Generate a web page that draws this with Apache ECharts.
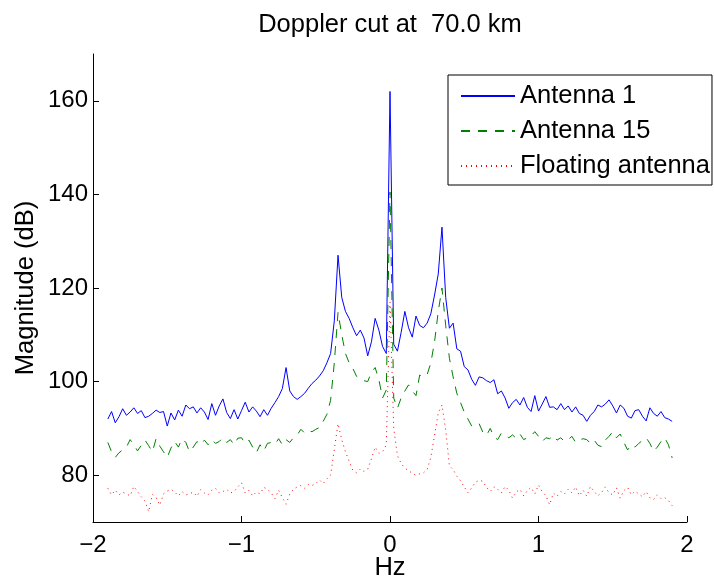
<!DOCTYPE html>
<html>
<head>
<meta charset="utf-8">
<script src="https://cdn.jsdelivr.net/npm/echarts@6/dist/echarts.min.js"></script>
<style>
  html, body { margin: 0; padding: 0; background: #fff; }
  #main { width: 714px; height: 580px; }
</style>
</head>
<body>
<div id="main"></div>
<script>
// frequency bins (Hz)
var freqs = [
  -1.9, -1.875, -1.85, -1.825, -1.8, -1.775, -1.75, -1.725, -1.7, -1.675,
  -1.65, -1.625, -1.6, -1.575, -1.55, -1.525, -1.5, -1.475, -1.45, -1.425,
  -1.4, -1.375, -1.35, -1.325, -1.3, -1.275, -1.25, -1.225, -1.2, -1.175,
  -1.15, -1.125, -1.1, -1.075, -1.05, -1.025, -1, -0.975, -0.95, -0.925,
  -0.9, -0.875, -0.85, -0.825, -0.8, -0.775, -0.75, -0.725, -0.7, -0.675,
  -0.65, -0.625, -0.6, -0.575, -0.55, -0.525, -0.5, -0.475, -0.45, -0.425,
  -0.4, -0.375, -0.35, -0.325, -0.3, -0.275, -0.25, -0.225, -0.2, -0.175,
  -0.15, -0.125, -0.1, -0.075, -0.05, -0.025, 0,
  0.025, 0.05, 0.075, 0.1, 0.125, 0.15, 0.175, 0.2, 0.225, 0.25,
  0.275, 0.3, 0.325, 0.35, 0.375, 0.4, 0.425, 0.45, 0.475, 0.5,
  0.525, 0.55, 0.575, 0.6, 0.625, 0.65, 0.675, 0.7, 0.725, 0.75,
  0.775, 0.8, 0.825, 0.85, 0.875, 0.9, 0.925, 0.95, 0.975, 1,
  1.025, 1.05, 1.075, 1.1, 1.125, 1.15, 1.175, 1.2, 1.225, 1.25,
  1.275, 1.3, 1.325, 1.35, 1.375, 1.4, 1.425, 1.45, 1.475, 1.5,
  1.525, 1.55, 1.575, 1.6, 1.625, 1.65, 1.675, 1.7, 1.725, 1.75,
  1.775, 1.8, 1.825, 1.85, 1.875, 1.9
];

// magnitudes (dB)
var antenna1 = [
  92.0, 93.6, 91.2, 92.5, 94.2, 92.8, 93.5, 94.4, 93.2, 93.8,
  92.3, 92.6, 93.2, 93.9, 93.4, 93.6, 90.5, 93.3, 91.8, 93.9,
  92.6, 95.0, 94.2, 94.6, 93.3, 94.4, 93.5, 91.9, 95.3, 92.8,
  94.8, 96.3, 93.4, 92.1, 94.0, 92.0, 93.8, 95.6, 93.5, 94.6,
  93.7, 92.5, 94.0, 92.8, 94.3, 95.5, 96.8, 98.5, 103.0, 98.0,
  96.8, 96.2, 96.8, 97.5, 98.6, 99.6, 100.3, 101.2, 102.3, 104.0,
  106.0, 113.0, 127.0, 118.0, 115.0, 113.5, 111.5, 109.8, 111.0, 109.3,
  105.5, 108.5, 113.5, 111.0, 107.5, 106.0, 162.0,
  108.0, 106.5, 110.5, 115.0, 111.5, 109.5, 114.0, 112.0, 111.5, 112.5,
  114.5, 118.5, 123.0, 133.0, 118.0, 111.4, 112.5, 107.0, 106.5, 103.2,
  102.5, 100.5, 99.2, 101.0, 100.8, 100.2, 99.8, 100.4, 97.4, 98.0,
  96.5, 94.3, 95.5, 96.2, 95.0, 96.6, 94.5, 93.6, 97.0, 93.7,
  95.2, 96.8, 94.5, 94.6, 94.0, 95.3, 94.0, 94.8, 93.5, 94.6,
  93.2, 92.8, 91.5, 92.8, 93.6, 95.0, 94.6, 95.2, 96.1, 94.8,
  93.3, 95.0, 94.3, 92.6, 92.2, 93.8, 94.0, 92.6, 91.6, 94.4,
  93.2, 92.6, 93.6, 92.3, 92.0, 91.5
];
var antenna15 = [
  87.0, 85.0, 83.8, 84.8, 85.4, 86.0, 87.6, 86.5, 85.2, 86.4,
  87.5, 86.3, 85.0, 87.8, 86.2, 85.0, 83.8, 85.8, 87.2, 86.0,
  87.8, 87.0, 85.0, 86.0, 87.2, 86.5, 87.5, 86.5, 87.6, 86.8,
  87.2, 88.0, 87.0, 87.6, 86.5, 87.9, 88.0, 86.8, 87.5, 86.0,
  84.8, 86.5, 85.2, 86.8, 87.0, 86.6, 87.8, 86.5, 87.6, 87.0,
  88.0, 88.6, 89.8, 89.0, 89.5, 89.3, 89.8, 90.2, 91.5, 93.0,
  96.0, 104.0, 114.8, 110.0, 106.0, 104.0, 102.8, 101.1, 100.5, 100.2,
  100.0, 102.0, 103.0, 100.4, 96.5, 98.2, 140.5,
  96.5, 94.3, 96.5, 98.0, 99.3, 98.0, 97.0, 101.4, 101.0, 101.5,
  104.0, 108.5, 115.0, 120.0, 112.0, 105.0, 101.0, 97.5, 95.5, 93.5,
  92.0, 90.5, 90.5, 91.0, 89.2, 88.5, 90.0, 88.2, 87.6, 89.0,
  88.5, 88.0, 88.6, 87.9, 88.8, 87.6, 88.0, 88.4, 89.3, 88.3,
  87.2, 88.0, 87.8, 88.5, 87.5, 88.0, 87.2, 87.6, 88.3, 87.0,
  87.5, 87.8, 87.6, 86.8, 87.5, 86.4, 86.1, 87.5, 88.3, 89.3,
  88.0, 88.8, 87.0, 85.4, 86.5, 86.0, 86.8, 87.4, 88.0, 86.8,
  85.1, 86.0, 87.2, 88.0, 86.5, 83.7
];
var floating = [
  77.2, 75.8, 76.8, 75.8, 76.4, 76.0, 75.6, 77.6, 76.5, 75.4,
  74.5, 72.2, 75.9, 75.2, 73.6, 76.0, 76.6, 77.0, 76.4, 75.6,
  76.5, 75.8, 76.0, 76.4, 75.5, 76.9, 76.2, 75.8, 76.8, 77.2,
  76.2, 76.5, 77.0, 76.2, 76.5, 77.5, 78.4, 76.2, 76.8, 75.6,
  76.4, 76.0, 77.4, 77.0, 76.2, 75.0, 76.8, 75.2, 73.8, 76.0,
  77.0, 77.5, 77.8, 77.2, 78.0, 77.8, 78.2, 79.0, 78.2, 79.2,
  80.0, 85.5, 91.0, 87.6, 85.0, 83.0, 81.0, 80.5, 81.3, 80.8,
  81.3, 83.5, 86.0, 84.7, 85.0, 86.5, 117.0,
  90.0, 84.2, 82.5, 81.5, 81.0, 80.4, 80.0, 80.3, 80.5, 81.2,
  83.8, 88.5, 93.3, 95.0, 89.7, 82.0, 81.2, 79.8, 78.8, 77.5,
  76.2, 77.3, 78.5, 78.9, 78.7, 77.4, 76.5, 77.5, 77.0, 76.2,
  77.6, 76.8, 75.1, 76.4, 77.0, 75.6, 76.7, 77.4, 76.0, 77.9,
  76.5, 75.6, 73.7, 76.2, 75.5, 76.5, 76.0, 77.0, 76.2, 77.5,
  75.6, 76.8, 75.5, 77.6, 76.5, 75.6, 76.3, 77.5, 76.2, 75.8,
  77.3, 75.1, 76.7, 77.4, 75.8, 76.6, 76.0, 75.4, 76.5, 75.2,
  74.8, 75.8, 75.0, 75.2, 74.6, 73.5
];

var yTicks = [80, 100, 120, 140, 160];

var fontFamily = '"Liberation Sans", Arial, Helvetica, sans-serif';

function pairs(values) {
  return freqs.map(function (f, i) { return [f, values[i]]; });
}

var chart = echarts.init(document.getElementById('main'));

var option = {
  animation: false,
  backgroundColor: '#fff',
  textStyle: { fontFamily: fontFamily },
  graphic: [{
    type: 'text',
    x: 390,
    y: 25,
    style: {
      text: 'Doppler cut at  70.0 km',
      fontSize: 25.5,
      fontFamily: fontFamily,
      fill: '#000',
      textAlign: 'center',
      textVerticalAlign: 'middle'
    }
  }],
  grid: {
    left: 93,
    right: 27,
    top: 54,
    bottom: 58,
    containLabel: false,
    outerBoundsMode: 'none'
  },
  legend: {
    orient: 'vertical',
    left: 448,
    top: 75,
    padding: [8, 2, 6, 12],
    itemGap: 9,
    itemWidth: 54,
    itemHeight: 14,
    borderColor: '#000',
    borderWidth: 1,
    backgroundColor: '#fff',
    itemStyle: { opacity: 0 },
    textStyle: { fontSize: 25.5, color: '#000', fontFamily: fontFamily },
    data: ['Antenna 1', 'Antenna 15', 'Floating antenna']
  },
  xAxis: {
    type: 'value',
    min: -2,
    max: 2,
    interval: 1,
    name: 'Hz',
    nameLocation: 'middle',
    nameGap: 33,
    nameMoveOverlap: false,
    nameTextStyle: { fontSize: 25.5, color: '#000', fontFamily: fontFamily },
    axisLine: { onZero: false, lineStyle: { color: '#000', width: 1 } },
    axisTick: { inside: true, length: 6, lineStyle: { color: '#000' } },
    axisLabel: {
      fontSize: 24,
      color: '#000',
      margin: 11,
      formatter: function (v) { return String(v).replace('-', '\u2212'); }
    },
    splitLine: { show: false }
  },
  yAxis: {
    type: 'value',
    min: 70,
    max: 170,
    name: 'Magnitude (dB)',
    nameLocation: 'middle',
    nameGap: 54,
    nameMoveOverlap: false,
    nameTextStyle: { fontSize: 25.5, color: '#000', fontFamily: fontFamily },
    axisLine: { show: true, onZero: false, lineStyle: { color: '#000', width: 1 } },
    axisTick: { show: true, inside: true, length: 6, customValues: yTicks, lineStyle: { color: '#000' } },
    axisLabel: { fontSize: 24, color: '#000', margin: 5, customValues: yTicks },
    splitLine: { show: false }
  },
  series: [
    {
      name: 'Antenna 1',
      type: 'line',
      symbol: 'none',
      data: pairs(antenna1),
      lineStyle: { color: '#0000ff', width: 1 },
      itemStyle: { color: '#0000ff' }
    },
    {
      name: 'Antenna 15',
      type: 'line',
      symbol: 'none',
      data: pairs(antenna15),
      lineStyle: { color: '#008000', width: 1, type: [9, 8] },
      itemStyle: { color: '#008000' }
    },
    {
      name: 'Floating antenna',
      type: 'line',
      symbol: 'none',
      data: pairs(floating),
      lineStyle: { color: '#ff0000', width: 1, type: [1, 4] },
      itemStyle: { color: '#ff0000' }
    }
  ]
};

chart.setOption(option);
</script>
</body>
</html>
